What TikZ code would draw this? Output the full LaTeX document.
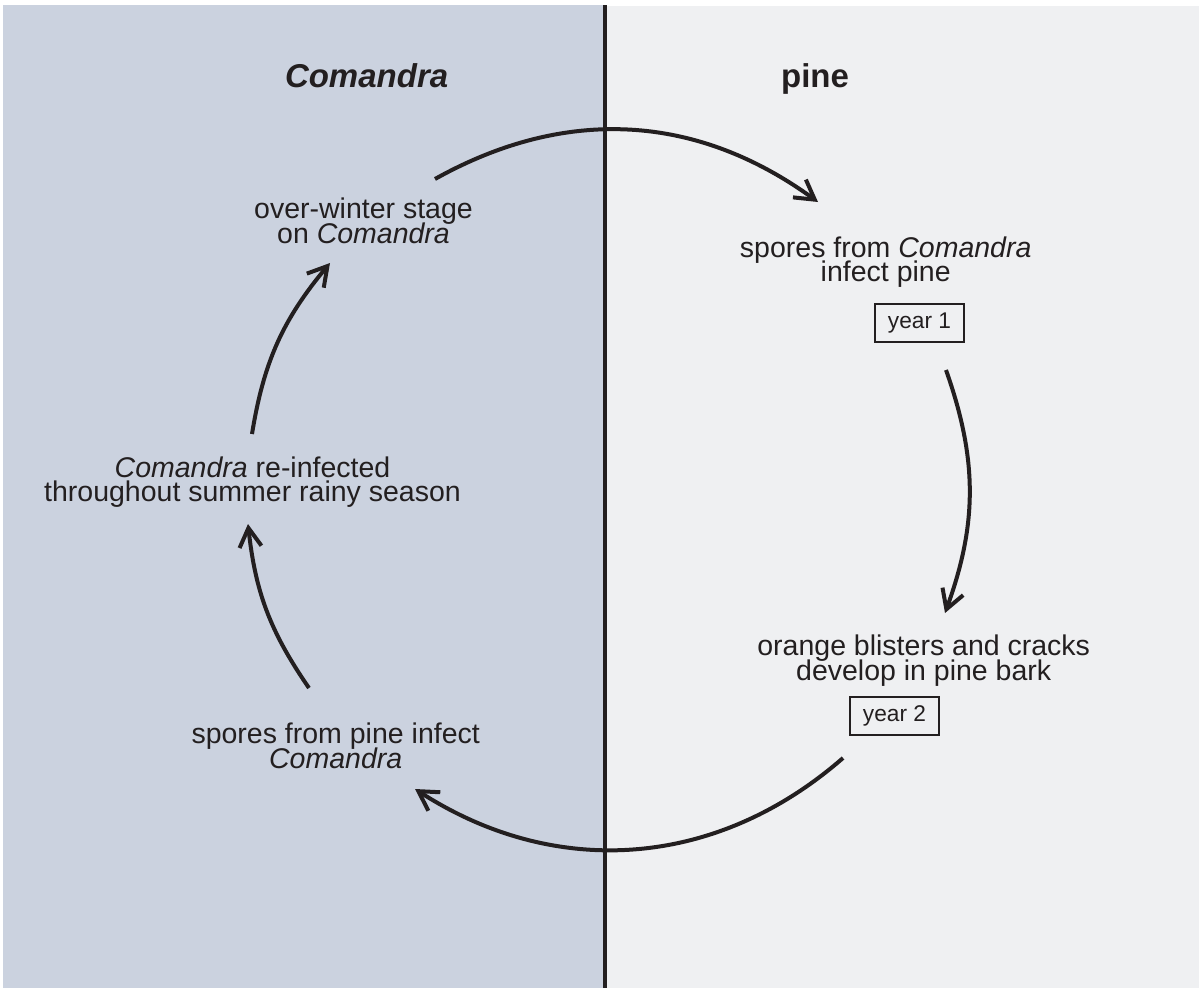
\documentclass[tikz,border=0pt]{standalone}
\usepackage{fontspec}
\setmainfont{Liberation Sans}
\usetikzlibrary{arrows.meta}

\definecolor{comandrablau}{RGB}{203,210,223}
\definecolor{pinegrau}{RGB}{239,240,242}
\definecolor{tinte}{RGB}{35,31,32}

\newcommand{\stadiumschrift}{\fontsize{28.5}{24.5}\selectfont\lineskiplimit=-50pt\relax}

\tikzset{
    stadium/.style={align=center, anchor=base, inner sep=0pt, text=tinte, font=\stadiumschrift},
    jahr/.style={draw=tinte, line width=2pt, text=tinte, inner sep=0pt, minimum width=89pt, minimum height=38pt, font=\fontsize{22.7}{24}\selectfont},
    titel/.style={anchor=base, inner sep=0pt, text=tinte, font=\fontsize{33}{36}\selectfont\bfseries},
    pfeil/.style={tinte, line width=4pt, -{Straight Barb[length=19pt, width=22pt]}}
}

\begin{document}
\begin{tikzpicture}[x=1pt, y=-1pt]
    \useasboundingbox (0,0) rectangle (1199,988);
    %Hintergrund
    \fill[white] (0,0) rectangle (1199,988);
    \fill[comandrablau] (3,5) rectangle (605,988);
    \fill[pinegrau] (605,6) rectangle (1199,988);
    \draw[tinte, line width=4.5pt] (605,5) -- (605,988); %Trennlinie

    %Ueberschriften
    \node[titel] (comandra) at (366.6,87) {\itshape Comandra};
    \node[titel] (pine) at (815,87) {pine};

    %Stadien (Grundlinie der letzten Zeile)
    \node[stadium] (winter) at (363.5,243) {over-winter stage\\on \textit{Comandra}};
    \node[stadium] (sporenC) at (885.7,281.7) {spores from \textit{Comandra}\\infect pine};
    \node[stadium] (blasen) at (923.7,680) {orange blisters and cracks\\develop in pine bark};
    \node[stadium] (sporenP) at (335.7,768.3) {spores from pine infect\\\textit{Comandra}};
    \node[stadium] (reinfekt) at (252.5,501.7) {\textit{Comandra} re-infected\\throughout summer rainy season};
    \node[jahr] (jahr1) at (919.5,323) {year 1};
    \node[jahr] (jahr2) at (894.5,716) {year 2};

    %Kreislauf
    \coordinate (a1) at (435,179);   \coordinate (b1) at (818,202);
    \coordinate (a2) at (946,370);   \coordinate (b2) at (945,613);
    \coordinate (a3) at (843,758);   \coordinate (b3) at (415,789);
    \coordinate (a4) at (309,688);   \coordinate (b4) at (248,524);
    \coordinate (a5) at (252,434);   \coordinate (b5) at (330,263);
    \foreach \von/\nach/\knick in {a1/b1/32.6, a2/b2/19.7, a3/b3/37, a4/b4/14.2, a5/b5/15.3} {
        \draw[pfeil] (\von) to[bend left=\knick] (\nach);
    }
\end{tikzpicture}
\end{document}
